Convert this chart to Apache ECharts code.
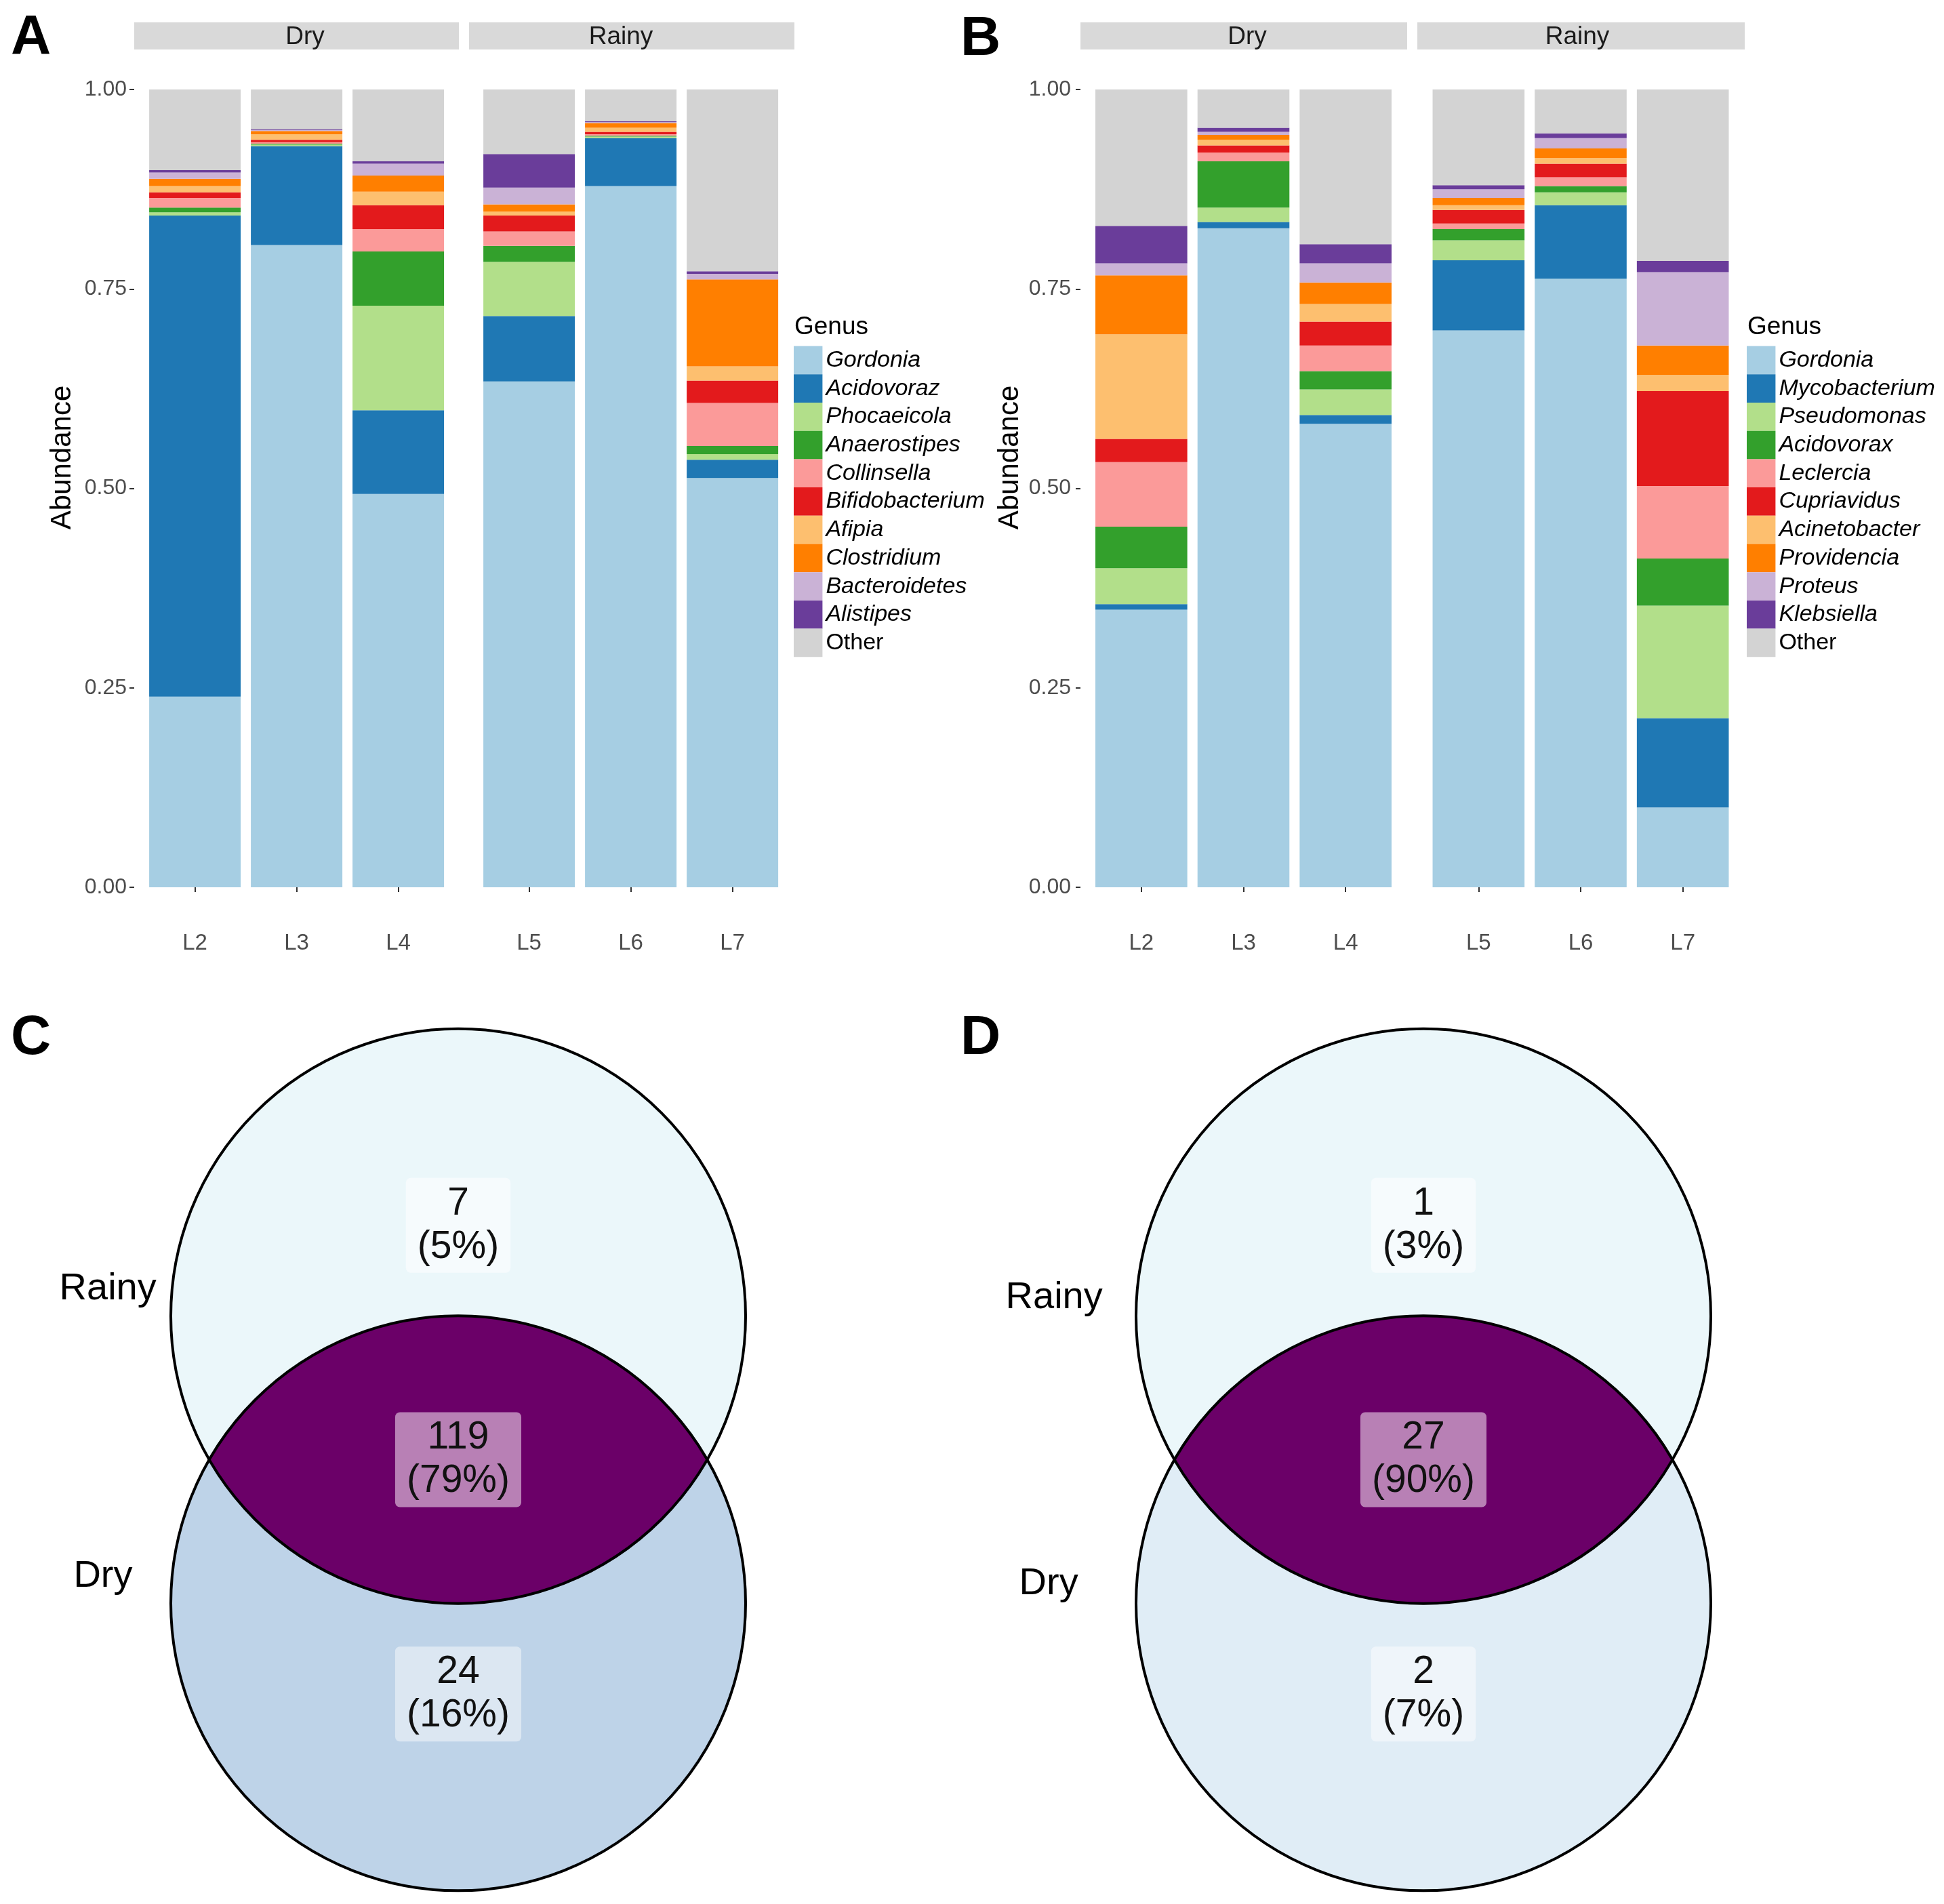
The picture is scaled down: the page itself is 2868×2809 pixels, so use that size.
<!DOCTYPE html>
<html><head><meta charset="utf-8">
<script src="https://cdn.jsdelivr.net/npm/echarts@6/dist/echarts.min.js"></script>
<style>html,body{margin:0;padding:0;background:#fff}#c{width:2868px;height:2809px}</style>
</head><body><div id="c"></div>
<script>
// ---------------- DATA ----------------
const samplesDry = ['L2', 'L3', 'L4'];
const samplesRainy = ['L5', 'L6', 'L7'];
const facetNames = ['Dry', 'Rainy'];
const yTickValues = [0, 0.25, 0.5, 0.75, 1];

const genusA = ['Gordonia','Acidovoraz','Phocaeicola','Anaerostipes','Collinsella','Bifidobacterium','Afipia','Clostridium','Bacteroidetes','Alistipes','Other'];
const genusB = ['Gordonia','Mycobacterium','Pseudomonas','Acidovorax','Leclercia','Cupriavidus','Acinetobacter','Providencia','Proteus','Klebsiella','Other'];

// Panel A: abundance per sample, in genusA order
const A_L2 = [0.239, 0.603, 0.004, 0.006, 0.012, 0.007, 0.008, 0.009, 0.008, 0.003, 0.101];
const A_L3 = [0.805, 0.124, 0.002, 0.001, 0.002, 0.003, 0.007, 0.004, 0.001, 0.001, 0.050];
const A_L4 = [0.493, 0.105, 0.131, 0.068, 0.028, 0.030, 0.017, 0.020, 0.015, 0.003, 0.090];
const A_L5 = [0.634, 0.082, 0.068, 0.020, 0.018, 0.020, 0.005, 0.009, 0.021, 0.042, 0.081];
const A_L6 = [0.879, 0.060, 0.002, 0.001, 0.002, 0.003, 0.005, 0.006, 0.001, 0.001, 0.040];
const A_L7 = [0.513, 0.023, 0.007, 0.010, 0.054, 0.028, 0.018, 0.109, 0.007, 0.003, 0.228];

// Panel B: abundance per sample, in genusB order
const B_L2 = [0.348, 0.007, 0.045, 0.052, 0.081, 0.029, 0.131, 0.074, 0.015, 0.047, 0.171];
const B_L3 = [0.826, 0.008, 0.018, 0.058, 0.011, 0.009, 0.007, 0.006, 0.004, 0.005, 0.048];
const B_L4 = [0.581, 0.011, 0.032, 0.023, 0.032, 0.030, 0.022, 0.027, 0.024, 0.024, 0.194];
const B_L5 = [0.698, 0.088, 0.025, 0.014, 0.007, 0.017, 0.006, 0.009, 0.011, 0.005, 0.120];
const B_L6 = [0.763, 0.092, 0.016, 0.008, 0.011, 0.017, 0.007, 0.012, 0.013, 0.006, 0.055];
const B_L7 = [0.100, 0.112, 0.141, 0.059, 0.091, 0.119, 0.020, 0.037, 0.092, 0.014, 0.215];

// Venn: [Rainy only, shared, Dry only]
const vennSets = ['Rainy', 'Dry'];
const vennC_counts = [7, 119, 24];
const vennC_pcts = [5, 79, 16];
const vennD_counts = [1, 27, 2];
const vennD_pcts = [3, 90, 7];

// ---------------- STYLE ----------------
const FONT = "'Liberation Sans', Arial, Helvetica, sans-serif";
const palette = ['#A6CEE3','#1F78B4','#B2DF8A','#33A02C','#FB9A99','#E31A1C','#FDBF6F','#FF7F00','#CAB2D6','#6A3D9A','#D3D3D3'];

const VENN = { cy: [0.5, -0.5], r: 1, labelY: [0.816, 0, -0.816] };

const chart = echarts.init(document.getElementById('c'), null, {renderer: 'canvas'});

const barGrids = [
  {left: 212.6, top: 132, width: 450, height: 1177},
  {left: 705.6, top: 132, width: 450, height: 1177},
  {left: 1608.5, top: 132, width: 452, height: 1177},
  {left: 2106, top: 132, width: 452, height: 1177}
];
const vennGrids = [
  {left: 252, top: 1518, width: 848, height: 1271},
  {left: 1676, top: 1518, width: 848, height: 1271}
];

const xAxes = [], yAxes = [];
barGrids.forEach((g, i) => {
  xAxes.push({
    type: 'category', gridIndex: i, data: i % 2 === 0 ? samplesDry : samplesRainy,
    offset: 61,
    axisLine: {show: false},
    axisTick: {show: true, alignWithLabel: true, length: 7, lineStyle: {color: '#333', width: 2}},
    axisLabel: {fontSize: 33, color: '#4D4D4D', margin: 5, fontFamily: FONT},
    splitLine: {show: false}
  });
  yAxes.push({
    type: 'value', gridIndex: i, min: 0, max: 1, interval: 0.25,
    show: i % 2 === 0, offset: i === 0 ? 14.6 : 14.5,
    axisLine: {show: false},
    axisTick: {show: true, length: 7, lineStyle: {color: '#333', width: 2}},
    axisLabel: {fontSize: 32, color: '#4D4D4D', margin: i === 0 ? 11 : 14, fontFamily: FONT,
      formatter: v => (yTickValues.indexOf(v) >= 0 ? v.toFixed(2) : '')},
    splitLine: {show: false}
  });
});
vennGrids.forEach((g, k) => {
  const i = 4 + k;
  xAxes.push({type: 'value', gridIndex: i, min: -1, max: 1, show: false});
  yAxes.push({type: 'value', gridIndex: i, min: -1.5, max: 1.5, show: false});
});

function stackSeries(genus, rows, axisIdx, stackId) {
  return genus.map((g, gi) => ({
    type: 'bar', name: g, stack: stackId, xAxisIndex: axisIdx, yAxisIndex: axisIdx,
    barWidth: '90%', itemStyle: {color: palette[gi]},
    emphasis: {disabled: true}, silent: true,
    data: rows.map(r => r[gi])
  }));
}

function vennSeries(axisIdx, counts, pcts, setPos, fills) {
  return {
    type: 'custom', coordinateSystem: 'cartesian2d', xAxisIndex: axisIdx, yAxisIndex: axisIdx,
    data: [[0, 0]], silent: true, clip: false,
    renderItem: (params, api) => {
      const up = api.coord([0, VENN.cy[0]]);
      const lo = api.coord([0, VENN.cy[1]]);
      const r = api.size([VENN.r, 0])[0];
      const d = lo[1] - up[1];
      const mid = (up[1] + lo[1]) / 2;
      const h = Math.sqrt(r * r - (d / 2) * (d / 2));
      const cx = up[0];
      const lens = `M ${cx - h} ${mid} A ${r} ${r} 0 0 1 ${cx + h} ${mid} A ${r} ${r} 0 0 1 ${cx - h} ${mid} Z`;
      const children = [
        {type: 'circle', shape: {cx: up[0], cy: up[1], r: r}, style: {fill: fills.top}},
        {type: 'circle', shape: {cx: lo[0], cy: lo[1], r: r}, style: {fill: fills.bottom}},
        {type: 'path', shape: {pathData: lens}, style: {fill: fills.mid}},
        {type: 'circle', shape: {cx: up[0], cy: up[1], r: r}, style: {fill: 'none', stroke: '#000', lineWidth: 4}},
        {type: 'circle', shape: {cx: lo[0], cy: lo[1], r: r}, style: {fill: 'none', stroke: '#000', lineWidth: 4}}
      ];
      const boxFills = [fills.boxTop, fills.boxMid, fills.boxBottom];
      counts.forEach((c, k) => {
        const p = api.coord([0, VENN.labelY[k]]);
        children.push({
          type: 'text', x: p[0], y: p[1],
          style: {
            text: c + '\n(' + pcts[k] + '%)', align: 'center', verticalAlign: 'middle',
            fontSize: 57, fontFamily: FONT, lineHeight: 64, fill: '#111',
            backgroundColor: boxFills[k], padding: [6, 17], borderRadius: 7
          }
        });
      });
      vennSets.forEach((s, k) => {
        const p = api.coord(setPos[k]);
        children.push({
          type: 'text', x: p[0], y: p[1],
          style: {text: s, align: 'center', verticalAlign: 'middle', fontSize: 56, fontFamily: FONT, fill: '#000'}
        });
      });
      return {type: 'group', children};
    }
  };
}

const series = [].concat(
  stackSeries(genusA, [A_L2, A_L3, A_L4], 0, 'aDry'),
  stackSeries(genusA, [A_L5, A_L6, A_L7], 1, 'aRainy'),
  stackSeries(genusB, [B_L2, B_L3, B_L4], 2, 'bDry'),
  stackSeries(genusB, [B_L5, B_L6, B_L7], 3, 'bRainy'),
  [
    vennSeries(4, vennC_counts, vennC_pcts, [[-1.219, 0.594], [-1.236, -0.407]],
      {top: '#EBF7FA', bottom: '#BED3E8', mid: '#6B0068', boxTop: '#F6FBFD', boxMid: '#B880B5', boxBottom: '#DCE7F2'}),
    vennSeries(5, vennD_counts, vennD_pcts, [[-1.285, 0.563], [-1.304, -0.433]],
      {top: '#EBF7FA', bottom: '#E0EDF6', mid: '#6B0068', boxTop: '#F6FBFD', boxMid: '#B880B5', boxBottom: '#EFF5FA'})
  ]
);

function legendCfg(names, left) {
  return {
    data: names, orient: 'vertical', left: left, top: 510.6, padding: 0,
    itemWidth: 42.4, itemHeight: 41.7, itemGap: 0, icon: 'rect', selectedMode: false,
    formatter: n => n === 'Other' ? '{n|' + n + '}' : '{i|' + n + '}',
    textStyle: {
      fontSize: 34, fontFamily: FONT, color: '#000', lineHeight: 41,
      rich: {
        i: {fontSize: 34, fontFamily: FONT, fontStyle: 'italic', color: '#000', lineHeight: 41},
        n: {fontSize: 34, fontFamily: FONT, fontStyle: 'normal', color: '#000', lineHeight: 41}
      }
    }
  };
}

const txt = (x, y, text, o) => ({type: 'text', x, y, silent: true,
  style: Object.assign({text, fontFamily: FONT, fill: '#000', align: 'center', verticalAlign: 'middle'}, o)});
const rect = (x, y, w, h) => ({type: 'rect', silent: true, shape: {x, y, width: w, height: h}, style: {fill: '#D9D9D9'}});

const graphic = [
  txt(16, 56, 'A', {fontSize: 82, fontWeight: 'bold', align: 'left'}),
  txt(1417, 58, 'B', {fontSize: 82, fontWeight: 'bold', align: 'left'}),
  txt(16, 1532, 'C', {fontSize: 82, fontWeight: 'bold', align: 'left'}),
  txt(1417, 1532, 'D', {fontSize: 82, fontWeight: 'bold', align: 'left'}),
  rect(198, 33, 479, 40), rect(692, 33, 480, 40), rect(1594, 33, 482, 40), rect(2091, 33, 483, 40),
  txt(450, 55, facetNames[0], {fontSize: 37, fill: '#1A1A1A'}),
  txt(916, 55, facetNames[1], {fontSize: 37, fill: '#1A1A1A'}),
  txt(1840, 55, facetNames[0], {fontSize: 37, fill: '#1A1A1A'}),
  txt(2327, 55, facetNames[1], {fontSize: 37, fill: '#1A1A1A'}),
  Object.assign(txt(92, 675, 'Abundance', {fontSize: 42}), {rotation: Math.PI / 2}),
  Object.assign(txt(1490, 675, 'Abundance', {fontSize: 42}), {rotation: Math.PI / 2}),
  txt(1172, 483, 'Genus', {fontSize: 37, align: 'left'}),
  txt(2578, 483, 'Genus', {fontSize: 37, align: 'left'})
];

chart.setOption({
  animation: false,
  backgroundColor: '#fff',
  grid: barGrids.concat(vennGrids),
  xAxis: xAxes,
  yAxis: yAxes,
  legend: [legendCfg(genusA, 1171), legendCfg(genusB, 2577)],
  series: series,
  graphic: graphic
});
</script>
</body></html>
